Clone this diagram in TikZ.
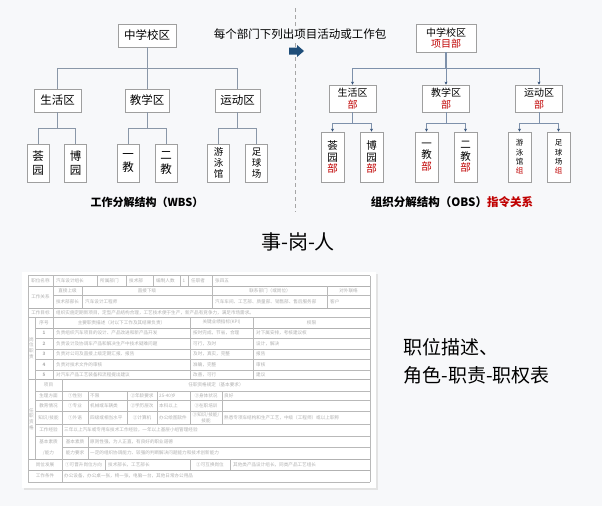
\documentclass[tikz,border=0pt]{standalone}
\usepackage{fontspec}
\setmainfont{Noto Sans CJK SC}
\usetikzlibrary{arrows.meta}
\definecolor{bg}{HTML}{F7F8FA}
\definecolor{redt}{HTML}{C00000}
\definecolor{wln}{HTML}{8A97A8}
\definecolor{oln}{HTML}{7E91AB}
\definecolor{arrc}{HTML}{2E4D75}
\definecolor{navyb}{HTML}{1F4E79}
\newcommand\myfs[2]{\fontsize{#1}{#2}\selectfont}
\tikzset{
  box/.style={draw=gray!75, line width=0.7pt, fill=white, inner sep=0pt, align=center},
  wline/.style={draw=wln, line width=0.8pt},
  oline/.style={draw=oln, line width=0.8pt},
  oarr/.style={oline, -{Stealth[length=3pt,width=3pt,color=arrc]}},
  tt/.style={font=\myfs{4.6}{5.6}, text=gray!62, inner sep=0pt},
  ttl/.style={tt, anchor=west},
  tl/.style={draw=gray!55, line width=0.45pt},
  tk/.style={draw=gray!60, line width=0.9pt},
}
\begin{document}
\begin{tikzpicture}[x=1pt,y=-1pt]
\fill[bg] (0,0) rectangle (602,506);
\useasboundingbox (0,0) rectangle (602,506);

% ---------- dashed divider and header ----------
\coordinate (d1) at (295.5,8);
\coordinate (d2) at (295.5,212);
\draw[gray!70, line width=0.7pt, dash pattern=on 4pt off 3pt] (d1) -- (d2);
\node[fill=bg, inner sep=1pt, font=\myfs{11.5}{12}] (hd) at (300,34) {每个部门下列出项目活动或工作包};
\fill[navyb] (289,47.5) -- (297,47.5) -- (297,45) -- (304,51) -- (297,57) -- (297,54.5) -- (289,54.5) -- cycle;

% ---------- WBS ----------
\coordinate (busW) at (0,68);
\coordinate (busW2) at (0,128);
\node[box, minimum width=58, minimum height=23, font=\myfs{11.5}{13}] (w0) at (147,35.5) {中学校区};
\node[box, minimum width=47, minimum height=23, font=\myfs{11.5}{13}] (w1) at (57.5,100.5) {生活区};
\node[box, minimum width=44, minimum height=23, font=\myfs{11.5}{13}] (w2) at (147,100.5) {教学区};
\node[box, minimum width=45, minimum height=23, font=\myfs{11.5}{13}] (w3) at (237.5,100.5) {运动区};
\foreach \n/\x/\t in {w11/38/荟\\园, w12/75.5/博\\园, w21/128/一\\教, w22/166/二\\教}
  \node[box, minimum width=22, minimum height=38, font=\myfs{11.5}{13.3}] (\n) at (\x,163) {\t};
\foreach \n/\x/\t in {w31/218.5/游\\泳\\馆, w32/256.5/足\\球\\场}
  \node[box, minimum width=22, minimum height=38, font=\myfs{9.5}{11}] (\n) at (\x,163) {\t};
\draw[wline] (w0.south) -- (w0.south |- busW);
\foreach \c in {w1,w2,w3} \draw[wline] (\c.north) |- (w0.south |- busW);
\foreach \p/\a/\b in {w1/w11/w12, w2/w21/w22, w3/w31/w32}{
  \draw[wline] (\p.south) -- (\p.south |- busW2);
  \draw[wline] (\a.north) |- (\p.south |- busW2);
  \draw[wline] (\b.north) |- (\p.south |- busW2);
}
\node[font=\myfs{11}{12}\bfseries] (wl) at (147,202) {工作分解结构（WBS）};

% ---------- OBS ----------
\coordinate (busO) at (0,68);
\coordinate (busO2) at (0,123);
\node[box, minimum width=60, minimum height=28, font=\myfs{10}{11}] (o0) at (446,38) {中学校区\\\textcolor{redt}{项目部}};
\foreach \n/\x/\t in {o1/352.5/生活区, o2/446/教学区, o3/539/运动区}
  \node[box, minimum width=47, minimum height=27, font=\myfs{10}{12}] (\n) at (\x,98.5) {\t\\\textcolor{redt}{部}};
\foreach \n/\x/\t in {o11/332.5/荟\\园, o12/371.5/博\\园, o21/426.5/一\\教, o22/465.5/二\\教}
  \node[box, minimum width=23, minimum height=50, font=\myfs{10.5}{11.7}] (\n) at (\x,157) {\t\\\textcolor{redt}{部}};
\foreach \n/\x/\t in {o31/519.5/游\\泳\\馆, o32/558.5/足\\球\\场}
  \node[box, minimum width=23, minimum height=50, font=\myfs{7.5}{9.3}] (\n) at (\x,157) {\t\\\textcolor{redt}{组}};
\draw[oline, line width=1.3pt] (o0.south) -- (o0.south |- busO);
\foreach \c in {o1,o2,o3} \draw[oarr] (o0.south |- busO) -| (\c.north);
\foreach \p/\a/\b in {o1/o11/o12, o2/o21/o22, o3/o31/o32}{
  \draw[oline] (\p.south) -- (\p.south |- busO2);
  \draw[oarr] (\p.south |- busO2) -| (\a.north);
  \draw[oarr] (\p.south |- busO2) -| (\b.north);
}
\node[font=\myfs{11.5}{12}\bfseries] (ol) at (452,202) {组织分解结构（OBS）\textcolor{redt}{指令关系}};

% ---------- middle and right texts ----------
\node[font=\myfs{20}{22}] (sgr) at (298,242) {事-岗-人};
\node[font=\myfs{19}{28}, align=left, anchor=north west] (desc) at (400,335) {职位描述、\\角色-职责-职权表};

% ---------- job description table (picture) ----------
\fill[gray!22] (23.5,273.5) rectangle (377.5,489.5);
\fill[white] (22,272) rectangle (376,488);
% horizontal lines
\draw[tl] (28,275.5) -- (370,275.5);
\draw[tk] (28,286) -- (370,286);
\draw[tl] (53,295) -- (370,295);
\draw[tk] (28,308) -- (370,308);
\draw[tl] (28,317) -- (370,317);
\draw[tk] (35,328) -- (370,328);
\foreach \y in {338,349,359,370} \draw[tl] (35,\y) -- (370,\y);
\draw[tk] (28,379) -- (370,379);
\foreach \y in {391,400,411,424,436} \draw[tl] (35,\y) -- (370,\y);
\draw[tl] (62,447) -- (370,447);
\draw[tk] (28,459) -- (370,459);
\draw[tk] (28,470) -- (370,470);
\draw[tl] (28,482) -- (370,482);
\draw[tl] (28,275.5) -- (28,482);
\draw[tl] (370,275.5) -- (370,482);
% vertical lines
\foreach \x in {53,97,126,153,180,188,212} \draw[tl] (\x,275.5) -- (\x,286);
\foreach \x in {53,82,212,327} \draw[tl] (\x,286) -- (\x,308);
\draw[tl] (53,308) -- (53,317);
\draw[tl] (35,317) -- (35,379);
\foreach \x in {53,190,253} \draw[tl] (\x,317) -- (\x,379);
\draw[tl] (35,379) -- (35,459);
\draw[tl] (62,379) -- (62,459);
\foreach \x in {88,127,157,190,222} \draw[tl] (\x,391) -- (\x,424);
\draw[tl] (88,436) -- (88,459);
\foreach \x in {62,105,190,230} \draw[tl] (\x,459) -- (\x,470);
\draw[tl] (62,470) -- (62,482);
% row 1
\node[tt] (t01) at (40.5,281) {职位名称};
\node[ttl] (t02) at (56,281) {汽车设计组长};
\node[ttl] (t03) at (100,281) {所属部门};
\node[ttl] (t04) at (129,281) {技术部};
\node[ttl] (t05) at (156,281) {编制人数};
\node[tt] (t06) at (184,281) {1};
\node[ttl] (t07) at (191,281) {任职者};
\node[ttl] (t08) at (215,281) {张四五};
% work relations
\node[tt] (t09) at (40.5,297) {工作关系};
\node[tt] (t10) at (67.5,290.5) {直接上级};
\node[tt] (t11) at (147,290.5) {直接下级};
\node[tt] (t12) at (270,290.5) {联系部门（或岗位）};
\node[tt] (t13) at (348.5,290.5) {对外联络};
\node[tt] (t14) at (67.5,301.5) {技术部部长};
\node[ttl] (t15) at (85,301.5) {汽车设计工程师};
\node[ttl] (t16) at (215,301.5) {汽车车间、工艺部、质量部、销售部、售后服务部};
\node[ttl] (t17) at (330,301.5) {客户};
% goal
\node[tt] (t18) at (40.5,312.5) {工作目标};
\node[ttl] (t19) at (56,312.5) {组织实施定期新项目，定型产品结构合理，工艺技术便于生产，新产品有竞争力，满足市场需求。};
% duties
\node[tt, align=center] (t20) at (31.5,348) {岗\\位\\职\\责};
\node[tt] (t21) at (44,322.5) {序号};
\node[tt] (t22) at (121.5,322.5) {主要职责描述（对以下工作及其结果负责）};
\node[tt] (t23) at (221.5,322.5) {关键业绩指标(KPI)};
\node[tt] (t24) at (311.5,322.5) {权限};
\node[tt, font=\myfs{4.6}{5.6}\bfseries] (t25) at (44,333) {1};
\node[tt, font=\myfs{4.6}{5.6}\bfseries] (t26) at (44,343.5) {2};
\node[tt, font=\myfs{4.6}{5.6}\bfseries] (t27) at (44,354) {3};
\node[tt, font=\myfs{4.6}{5.6}\bfseries] (t28) at (44,364.5) {4};
\node[tt, font=\myfs{4.6}{5.6}\bfseries] (t29) at (44,374.5) {5};
\node[ttl] (t30) at (56,333) {负责组织汽车项目的设计、产品改进和新产品开发};
\node[ttl] (t31) at (56,343.5) {负责设计及协调车产品和解决生产中技术疑难问题};
\node[ttl] (t32) at (56,354) {负责对公司及直接上级定期汇报、报告};
\node[ttl] (t33) at (56,364.5) {负责对技术文件的审核};
\node[ttl] (t34) at (56,374.5) {对汽车产品工艺装备和流程提出建议};
\node[ttl] (t35) at (193,333) {按时完成，节省，合理};
\node[ttl] (t36) at (193,343.5) {可行，及时};
\node[ttl] (t37) at (193,354) {及时，真实，完整};
\node[ttl] (t38) at (193,364.5) {准确，完整};
\node[ttl] (t39) at (193,374.5) {改善，可行};
\node[ttl] (t40) at (256,333) {对下属安排，考核建议权};
\node[ttl] (t41) at (256,343.5) {设计，解决};
\node[ttl] (t42) at (256,354) {报告};
\node[ttl] (t43) at (256,364.5) {审核};
\node[ttl] (t44) at (256,374.5) {建议};
% qualifications
\node[tt, align=center] (t45) at (31.5,419) {任\\职\\资\\格};
\node[tt] (t46) at (48.5,385) {项目};
\node[tt] (t47) at (216,385) {任职资格规定（基本要求）};
\node[tt] (t48) at (48.5,395.5) {生理方面};
\node[tt] (t49) at (75,395.5) {①性别};
\node[ttl] (t50) at (90,395.5) {不限};
\node[tt] (t51) at (142,395.5) {②年龄要求};
\node[ttl] (t52) at (159,395.5) {25-40岁};
\node[tt] (t53) at (206,395.5) {③身体状况};
\node[ttl] (t54) at (224,395.5) {良好};
\node[tt] (t55) at (48.5,405.5) {教育情况};
\node[tt] (t56) at (75,405.5) {①专业};
\node[ttl] (t57) at (90,405.5) {机械或车辆类};
\node[tt] (t58) at (142,405.5) {②学历层次};
\node[ttl] (t59) at (159,405.5) {本科以上};
\node[tt] (t60) at (206,405.5) {③在职培训};
\node[tt] (t61) at (48.5,417.5) {知识/技能};
\node[tt] (t62) at (75,417.5) {①外语};
\node[ttl] (t63) at (90,417.5) {四级或相当水平};
\node[tt] (t64) at (142,417.5) {②计算机};
\node[ttl] (t65) at (159,417.5) {办公绘图软件};
\node[tt, align=center] (t66) at (206,417.5) {③知识/技能/\\技能};
\node[ttl] (t67) at (224,417.5) {熟悉专项车结构和生产工艺，中级（工程师）或以上职称};
\node[tt] (t68) at (48.5,430) {工作经验};
\node[ttl] (t69) at (64,430) {三年以上汽车或专用车技术工作经验，一年以上基层小组管理经验};
\node[tt] (t70) at (48.5,441.5) {基本素质};
\node[tt] (t71) at (48.5,453) {/能力};
\node[tt] (t72) at (75,441.5) {基本素质};
\node[ttl] (t73) at (90,441.5) {原则性强，为人正直，有良好的职业道德};
\node[tt] (t74) at (75,453) {能力要求};
\node[ttl] (t75) at (90,453) {一定的组织协调能力、较强的判断解决问题能力和技术创新能力};
% development and conditions
\node[tt] (t76) at (45,464.5) {岗位发展};
\node[tt] (t77) at (83.5,464.5) {①可晋升岗位方向};
\node[ttl] (t78) at (108,464.5) {技术部长，工艺部长};
\node[tt] (t79) at (210,464.5) {②可互换岗位};
\node[ttl] (t80) at (233,464.5) {其他类产品设计组长，同类产品工艺组长};
\node[tt] (t81) at (45,476) {工作条件};
\node[ttl] (t82) at (64,476) {办公设备，办公桌一张，椅一张，电脑一台，其他日常办公用品};
\end{tikzpicture}
\end{document}
